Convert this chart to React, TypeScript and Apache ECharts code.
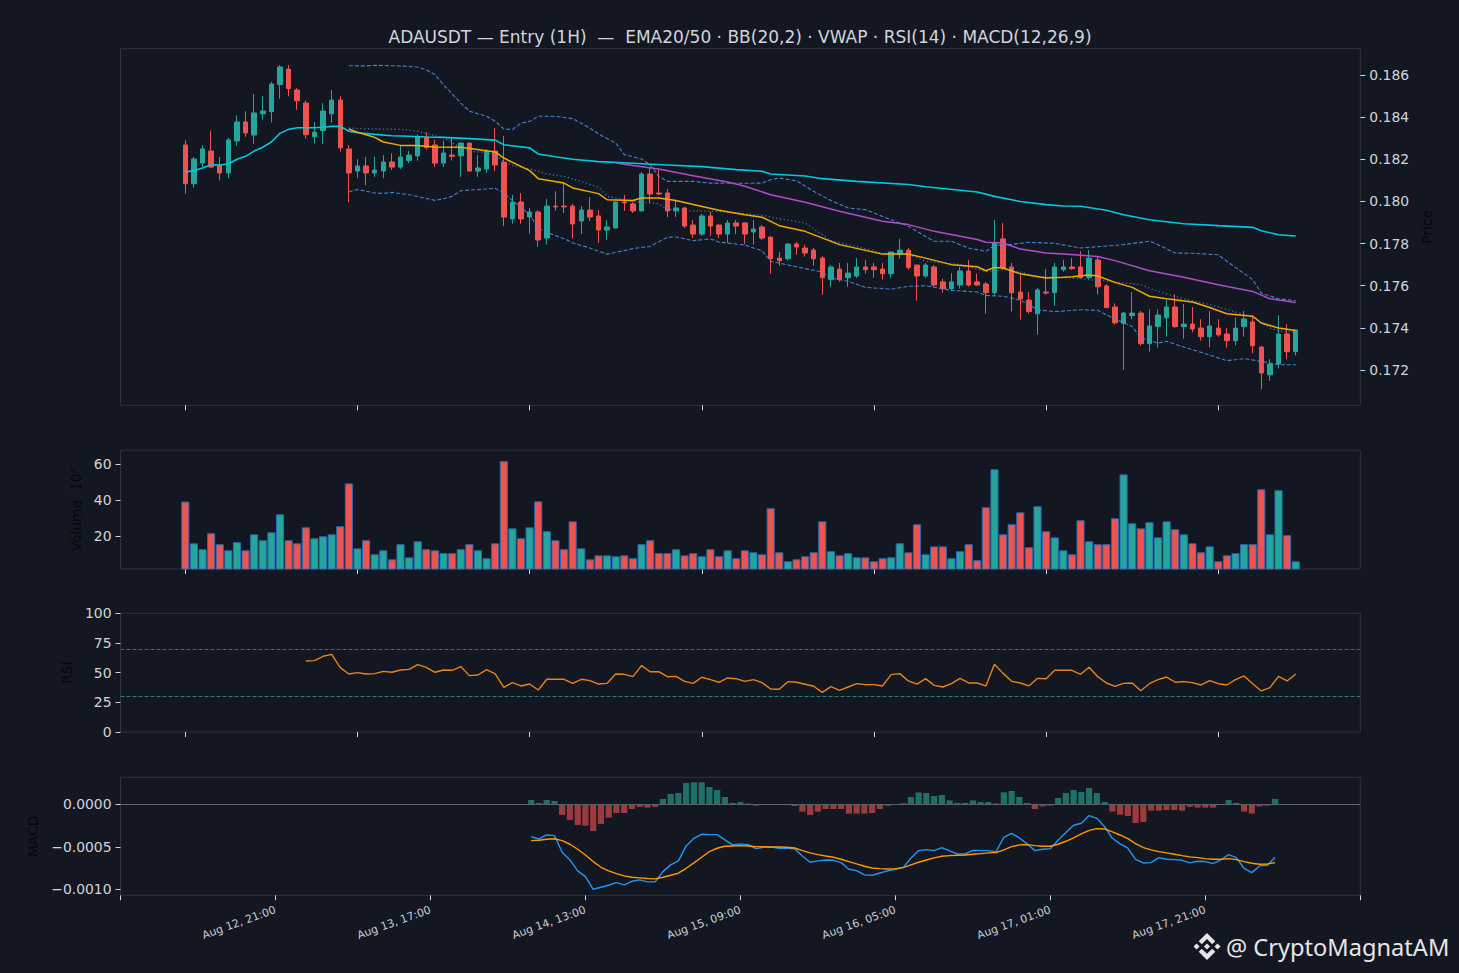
import React, { useEffect, useRef } from "react";
import * as echarts from "echarts";

const TITLE = "ADAUSDT — Entry (1H)  —  EMA20/50 · BB(20,2) · VWAP · RSI(14) · MACD(12,26,9)";
const WATERMARK = "@ CryptoMagnatAM";

const OPEN = [
  0.18268,0.18084,0.18182,0.18239,0.18171,0.18135,0.18287,0.18377,0.18315,0.18416,
  0.18426,0.18554,0.18628,0.18529,0.18467,0.18307,0.18336,0.18416,0.18481,0.18249,
  0.18144,0.18168,0.18135,0.18144,0.18187,0.18163,0.18194,0.18216,0.18306,0.18268,
  0.18182,0.18220,0.18216,0.18277,0.18144,0.18154,0.18239,0.18187,0.17917,0.17997,
  0.17926,0.17950,0.17826,0.17978,0.17978,0.17978,0.17907,0.17959,0.17931,0.17864,
  0.17874,0.17997,0.17988,0.17955,0.18130,0.18040,0.18040,0.17955,0.17969,0.17888,
  0.17845,0.17931,0.17888,0.17845,0.17898,0.17898,0.17855,0.17879,0.17831,0.17731,
  0.17728,0.17798,0.17779,0.17769,0.17731,0.17629,0.17679,0.17638,0.17646,0.17689,
  0.17689,0.17679,0.17657,0.17750,0.17769,0.17698,0.17646,0.17689,0.17618,0.17586,
  0.17603,0.17670,0.17618,0.17608,0.17567,0.17822,0.17689,0.17570,0.17532,0.17467,
  0.17570,0.17567,0.17676,0.17689,0.17689,0.17638,0.17722,0.17599,0.17499,0.17422,
  0.17458,0.17470,0.17325,0.17406,0.17448,0.17499,0.17406,0.17418,0.17399,0.17358,
  0.17399,0.17371,0.17339,0.17406,0.17428,0.17309,0.17177,0.17229,0.17371,0.17287,
];
const HIGH = [
  0.18290,0.18211,0.18266,0.18337,0.18211,0.18301,0.18409,0.18428,0.18510,0.18499,
  0.18567,0.18647,0.18647,0.18538,0.18480,0.18377,0.18467,0.18529,0.18499,0.18268,
  0.18201,0.18211,0.18211,0.18220,0.18228,0.18268,0.18239,0.18318,0.18328,0.18293,
  0.18290,0.18301,0.18279,0.18279,0.18220,0.18249,0.18348,0.18310,0.18031,0.18040,
  0.17969,0.17959,0.18012,0.18049,0.18087,0.17988,0.17978,0.18021,0.17959,0.17912,
  0.17999,0.18031,0.17997,0.18140,0.18159,0.18149,0.18059,0.18007,0.17972,0.17912,
  0.17940,0.17950,0.17890,0.17912,0.17912,0.17900,0.17912,0.17888,0.17833,0.17760,
  0.17800,0.17807,0.17795,0.17779,0.17741,0.17698,0.17708,0.17708,0.17731,0.17722,
  0.17708,0.17708,0.17762,0.17822,0.17779,0.17700,0.17708,0.17698,0.17633,0.17660,
  0.17689,0.17722,0.17657,0.17618,0.17912,0.17898,0.17708,0.17652,0.17570,0.17589,
  0.17679,0.17708,0.17722,0.17731,0.17765,0.17769,0.17738,0.17607,0.17516,0.17475,
  0.17569,0.17480,0.17488,0.17488,0.17532,0.17559,0.17513,0.17499,0.17441,0.17480,
  0.17441,0.17399,0.17448,0.17480,0.17460,0.17315,0.17251,0.17460,0.17417,0.17390,
];
const LOW = [
  0.18037,0.18065,0.18163,0.18157,0.18100,0.18110,0.18265,0.18307,0.18274,0.18388,
  0.18375,0.18488,0.18499,0.18435,0.18298,0.18274,0.18274,0.18374,0.18236,0.17996,
  0.18110,0.18076,0.18116,0.18110,0.18148,0.18154,0.18182,0.18194,0.18246,0.18163,
  0.18163,0.18194,0.18116,0.18142,0.18116,0.18135,0.18144,0.17883,0.17894,0.17894,
  0.17847,0.17785,0.17795,0.17956,0.17945,0.17826,0.17845,0.17907,0.17803,0.17817,
  0.17872,0.17955,0.17945,0.17953,0.17993,0.18031,0.17926,0.17926,0.17874,0.17826,
  0.17836,0.17836,0.17826,0.17803,0.17845,0.17798,0.17796,0.17817,0.17657,0.17695,
  0.17719,0.17747,0.17738,0.17695,0.17557,0.17595,0.17619,0.17595,0.17637,0.17657,
  0.17638,0.17629,0.17638,0.17728,0.17676,0.17529,0.17638,0.17595,0.17567,0.17576,
  0.17586,0.17595,0.17601,0.17467,0.17557,0.17676,0.17478,0.17439,0.17467,0.17368,
  0.17557,0.17505,0.17667,0.17676,0.17636,0.17633,0.17559,0.17494,0.17415,0.17200,
  0.17441,0.17315,0.17287,0.17306,0.17358,0.17400,0.17349,0.17379,0.17339,0.17308,
  0.17358,0.17306,0.17317,0.17358,0.17279,0.17108,0.17149,0.17208,0.17251,0.17270,
];
const CLOSE = [
  0.18084,0.18201,0.18249,0.18163,0.18135,0.18292,0.18377,0.18325,0.18420,0.18429,
  0.18557,0.18638,0.18535,0.18478,0.18317,0.18329,0.18429,0.18481,0.18255,0.18135,
  0.18168,0.18135,0.18149,0.18187,0.18163,0.18211,0.18220,0.18306,0.18255,0.18182,
  0.18230,0.18214,0.18277,0.18144,0.18159,0.18239,0.18173,0.17926,0.17997,0.17917,
  0.17950,0.17817,0.17978,0.17974,0.17974,0.17893,0.17959,0.17926,0.17864,0.17879,
  0.17997,0.17993,0.17955,0.18130,0.18035,0.18035,0.17955,0.17969,0.17883,0.17845,
  0.17931,0.17883,0.17845,0.17898,0.17883,0.17845,0.17869,0.17826,0.17728,0.17719,
  0.17798,0.17784,0.17755,0.17728,0.17638,0.17689,0.17629,0.17660,0.17689,0.17676,
  0.17676,0.17657,0.17760,0.17769,0.17686,0.17646,0.17698,0.17603,0.17586,0.17618,
  0.17670,0.17603,0.17603,0.17567,0.17804,0.17686,0.17567,0.17538,0.17477,0.17580,
  0.17565,0.17689,0.17689,0.17681,0.17638,0.17731,0.17595,0.17496,0.17424,0.17470,
  0.17470,0.17325,0.17409,0.17461,0.17499,0.17406,0.17418,0.17395,0.17358,0.17409,
  0.17367,0.17339,0.17399,0.17442,0.17315,0.17186,0.17228,0.17371,0.17287,0.17390,
];
// volume in millions
const VOLUME_M = [
  39.3,16.1,12.8,21.7,15.6,12.2,16.7,12.2,21.1,17.8,22.2,32.2,17.8,16.1,25.0,18.9,20.0,21.1,25.6,49.4,
  13.3,17.8,10.0,12.2,7.2,15.6,8.3,17.2,12.8,12.2,10.6,10.6,12.8,15.6,12.2,7.8,16.1,61.7,24.4,18.9,
  25.0,39.4,22.8,17.8,12.8,28.3,13.3,7.2,9.4,9.4,8.9,9.4,7.8,15.6,17.8,10.6,10.6,12.8,9.4,10.6,
  8.9,12.8,8.9,12.2,7.8,12.2,11.1,10.0,35.6,11.1,6.1,7.2,8.9,11.1,28.3,11.7,9.4,10.6,8.3,8.3,
  6.1,7.8,8.3,16.1,11.1,26.7,10.0,14.4,14.4,7.8,11.7,15.6,6.7,36.1,57.2,21.1,26.7,33.3,13.9,36.7,
  22.8,19.4,12.2,10.0,28.9,17.2,15.6,15.6,30.0,54.4,27.2,24.4,27.8,19.4,28.3,23.9,21.1,16.1,11.1,14.4,
  6.1,9.4,10.6,15.6,15.6,46.1,21.1,45.6,20.6,6.1,
];
const RSI_START = 14;
const RSI = [
  59.8,60.1,63.8,65.4,54.2,48.9,50.0,48.9,49.2,51.1,50.3,52.2,52.8,56.7,54.5,50.3,52.2,52.0,55.1,47.5,
  48.0,52.5,48.9,37.6,41.6,
  38.8,40.4,35.4,44.4,44.4,44.4,41.0,44.4,43.3,40.4,41.0,48.9,48.6,46.6,55.9,50.8,50.8,46.6,46.9,42.7,
  41.0,46.1,44.1,41.9,45.5,44.9,42.7,44.1,41.6,36.2,36.0,42.4,41.9,40.2,38.5,33.4,38.2,35.1,37.9,40.7,
  39.9,39.9,38.8,48.3,49.2,43.0,40.4,45.0,
  39.3,37.9,40.7,45.2,41.3,41.3,38.8,57.0,49.4,42.7,41.3,38.8,45.2,44.9,52.0,52.0,52.0,48.6,54.5,46.6,
  41.3,38.5,41.0,41.3,34.8,40.7,44.1,46.3,41.9,42.4,41.6,39.6,43.3,40.7,39.6,44.1,47.2,40.7,34.6,37.4,
  46.9,43.0,48.9,
];
// MACD values in units of 1e-6, starting at candle 33
const MACD_START = 33;
const MACD_E6 = [
  -380,-408,-361,-368,-564,-655,-784,-851,-1000,-976,-953,-921,-949,-906,-890,-913,-913,-792,-713,-666,-490,-400,
  -353,-357,-357,-419,-478,-466,-474,-521,-506,-502,-517,-517,-525,-608,-682,-666,-655,-659,-686,-764,
  -780,-831,-835,-808,-784,-764,-745,-635,-545,-533,-545,-510,-549,-584,-584,-541,-545,-545,-557,-388,
  -341,-396,-466,-545,-529,-521,-423,-333,-247,-223,-133,-165,-263,-400,-466,-517,-647,-690,-686,-627,
  -647,-651,-659,-690,-670,-674,-698,-655,-592,-627,-753,-804,-725,-717,-623,
];
const SIGNAL_E6 = [
  -427,-423,-412,-405,-427,-470,-529,-596,-674,-741,-784,-815,-843,-858,-866,-874,-878,-858,-835,-811,-753,-690,
  -623,-557,-517,-494,-490,-486,-490,-498,-498,-502,-502,-506,-514,-545,-572,-592,-608,-623,-647,-674,
  -702,-729,-749,-757,-761,-757,-745,-713,-682,-655,-631,-612,-604,-600,-596,-588,-580,-572,-568,-537,
  -498,-478,-474,-486,-494,-494,-470,-435,-396,-349,-306,-286,-290,-325,-361,-404,-463,-510,-537,-557,
  -572,-588,-604,-619,-627,-639,-647,-647,-639,-651,-674,-694,-706,-702,-686,
];
const HIST_E6 = [
  51,16,51,39,-125,-184,-243,-251,-314,-231,-157,-102,-102,-55,-31,-39,-31,63,122,133,251,259,
  259,204,169,86,16,27,8,-16,-8,-3,-4,-4,-20,-86,-125,-86,-55,-55,-55,-110,
  -110,-110,-102,-55,-16,-5,12,86,141,133,98,110,47,16,16,47,27,27,10,141,
  157,86,16,-55,-24,-16,74,133,169,145,192,133,27,-86,-122,-137,-220,-208,-74,-74,
  -67,-67,-74,-31,-39,-39,-39,-4,51,16,-86,-110,-24,-16,63,
];
// overlay lines: [candle index, price]
const VWAP: [number, number][] = [
  [0,0.18140],[1,0.18146],[2,0.18159],[3,0.18174],[4,0.18173],[5,0.18178],[6,0.18200],[7,0.18214],[8,0.18239],[9,0.18257],
  [10,0.18282],[11,0.18323],[12,0.18342],[13,0.18350],[14,0.18350],[15,0.18350],[16,0.18352],[17,0.18356],[18,0.18356],[19,0.18333],
  [20,0.18326],[22,0.18318],[24,0.18312],[26,0.18309],[28,0.18306],[30,0.18304],[33,0.18298],[36,0.18291],[37,0.18269],[40,0.18254],
  [41,0.18225],[43,0.18212],[45,0.18200],[48,0.18189],[52,0.18181],[56,0.18173],[60,0.18165],[64,0.18151],[67,0.18143],[68,0.18130],
  [72,0.18121],[74,0.18108],[78,0.18095],[84,0.18080],[86,0.18070],[92,0.18045],[94,0.18024],[97,0.18000],[100,0.17985],[102,0.17978],
  [104,0.17977],[107,0.17958],[109,0.17937],[112,0.17913],[116,0.17894],[120,0.17885],[124,0.17877],[125,0.17861],[127,0.17842],[129,0.17836],
];
const EMA20: [number, number][] = [
  [19,0.18344],[20,0.18328],[22,0.18304],[23,0.18282],[25,0.18266],[27,0.18265],[29,0.18258],[32,0.18257],[36,0.18235],[37,0.18206],
  [40,0.18146],[41,0.18108],[44,0.18087],[45,0.18064],[48,0.18037],[49,0.18008],[52,0.18004],[53,0.18016],[55,0.18016],[57,0.18004],
  [59,0.17985],[62,0.17958],[65,0.17937],[67,0.17925],[69,0.17885],[72,0.17858],[76,0.17795],[81,0.17750],[84,0.17750],[86,0.17731],
  [89,0.17700],[92,0.17690],[93,0.17671],[94,0.17687],[95,0.17684],[97,0.17657],[100,0.17637],[102,0.17640],[103,0.17643],[105,0.17651],
  [106,0.17646],[108,0.17616],[110,0.17592],[112,0.17550],[114,0.17538],[117,0.17523],[119,0.17497],[121,0.17467],[124,0.17455],[125,0.17423],
  [127,0.17399],[129,0.17387],
];
const EMA50: [number, number][] = [
  [50,0.18182],[52,0.18170],[55,0.18154],[59,0.18122],[63,0.18092],[65,0.18072],[68,0.18032],[72,0.17996],[76,0.17953],[81,0.17906],
  [84,0.17890],[87,0.17858],[92,0.17819],[93,0.17806],[95,0.17803],[97,0.17774],[100,0.17755],[102,0.17750],[106,0.17739],[108,0.17719],
  [112,0.17671],[116,0.17640],[120,0.17605],[124,0.17573],[126,0.17538],[129,0.17520],
];
const BB_UP: [number, number][] = [
  [19,0.18644],[21,0.18643],[22,0.18646],[25,0.18643],[27,0.18638],[28,0.18624],[29,0.18602],[30,0.18554],[32,0.18467],[33,0.18428],
  [35,0.18404],[36,0.18380],[37,0.18344],[38,0.18341],[39,0.18371],[40,0.18380],[41,0.18404],[43,0.18404],[45,0.18393],[47,0.18348],
  [48,0.18320],[50,0.18277],[51,0.18222],[53,0.18201],[54,0.18174],[55,0.18119],[56,0.18095],[59,0.18095],[61,0.18087],[65,0.18086],
  [67,0.18087],[68,0.18103],[69,0.18111],[71,0.18098],[73,0.18048],[75,0.18004],[77,0.17969],[79,0.17961],[80,0.17945],[82,0.17913],
  [84,0.17882],[86,0.17834],[87,0.17811],[89,0.17811],[91,0.17779],[93,0.17763],[94,0.17792],[96,0.17796],[98,0.17806],[101,0.17801],
  [104,0.17779],[106,0.17785],[109,0.17795],[112,0.17811],[113,0.17795],[115,0.17755],[117,0.17754],[120,0.17747],[121,0.17716],[124,0.17629],
  [125,0.17565],[127,0.17538],[129,0.17529],
];
const BB_MID: [number, number][] = [
  [19,0.18348],[22,0.18344],[25,0.18342],[27,0.18333],[28,0.18322],[29,0.18312],[30,0.18304],[31,0.18277],[33,0.18238],[35,0.18231],
  [36,0.18219],[37,0.18190],[38,0.18171],[40,0.18155],[42,0.18130],[44,0.18119],[46,0.18095],[48,0.18067],[49,0.18024],[51,0.18008],
  [52,0.18000],[55,0.17989],[56,0.17962],[58,0.17956],[62,0.17953],[65,0.17942],[67,0.17934],[69,0.17918],[72,0.17898],[75,0.17814],
  [77,0.17795],[80,0.17766],[81,0.17750],[84,0.17750],[86,0.17716],[90,0.17700],[93,0.17668],[95,0.17675],[97,0.17665],[99,0.17643],
  [101,0.17640],[104,0.17633],[108,0.17618],[111,0.17605],[113,0.17573],[116,0.17538],[119,0.17510],[121,0.17488],[124,0.17450],[126,0.17399],
  [127,0.17387],[129,0.17379],
];
const BB_LOW: [number, number][] = [
  [19,0.18045],[20,0.18057],[22,0.18040],[23,0.18038],[24,0.18043],[26,0.18032],[27,0.18023],[29,0.18005],[30,0.18013],[31,0.18024],
  [32,0.18051],[34,0.18056],[36,0.18062],[37,0.18040],[38,0.18004],[40,0.17937],[41,0.17874],[42,0.17853],[44,0.17823],[45,0.17803],
  [47,0.17779],[49,0.17750],[50,0.17758],[52,0.17776],[54,0.17787],[56,0.17830],[57,0.17831],[59,0.17814],[61,0.17822],[62,0.17807],
  [65,0.17793],[67,0.17766],[68,0.17716],[72,0.17681],[74,0.17665],[75,0.17637],[77,0.17621],[79,0.17592],[82,0.17584],[84,0.17597],
  [86,0.17600],[89,0.17578],[92,0.17570],[93,0.17554],[95,0.17550],[97,0.17532],[99,0.17486],[101,0.17477],[104,0.17486],[106,0.17483],
  [108,0.17442],[110,0.17407],[111,0.17352],[113,0.17328],[114,0.17336],[116,0.17309],[118,0.17284],[121,0.17244],[123,0.17254],[125,0.17241],
  [127,0.17225],[129,0.17225],
];

const PRICE_TICKS = [0.172, 0.174, 0.176, 0.178, 0.18, 0.182, 0.184, 0.186];
const VOLUME_TICKS = [20, 40, 60];
const MACD_TICKS = [-0.001, -0.0005, 0];
const CANDLE_TICKS = [0, 20, 40, 60, 80, 100, 120];
const DATE_LABELS = ["", "Aug 12, 21:00", "Aug 13, 17:00", "Aug 14, 13:00", "Aug 15, 09:00", "Aug 16, 05:00", "Aug 17, 01:00", "Aug 17, 21:00", ""];

const UP = "#26a69a";
const DOWN = "#ef5350";
const BG = "#131722";
const FG = "#d1d4dc";
const FRAME = "#2f3340";
const FONT = "DejaVu Sans";

const BNB_PATH =
  "M38.73 53.2L63.3 28.63l24.6 24.6 14.3-14.31L63.3 0 24.42 38.88l14.31 14.32zM0 63.31l14.31-14.31 14.31 14.31-14.31 14.3zM38.73 73.41l24.57 24.57 24.6-24.6 14.31 14.29-38.9 38.91-38.88-38.88-.02-.02 14.32-14.27zM98.28 63.31l14.3-14.31 14.32 14.31-14.31 14.3zM77.83 63.3L63.3 48.76 52.56 59.5l-1.24 1.23-2.54 2.54-.02.02.02.03 14.52 14.5 14.53-14.53.01-.01-.01-.01z";
try {
  echarts.graphic.registerShape("bnbLogo", echarts.graphic.extendPath(BNB_PATH, {}) as any);
} catch (e) {}

const GRID_L = 120.5;
const GRID_R = 1459 - 1360.3;
const X_MIN = -7.53;
const X_MAX = 136.5;

function buildOption() {
  const candles = OPEN.map((o, i) => [i, o, CLOSE[i], LOW[i], HIGH[i]]);
  const volume = VOLUME_M.map((v, i) => ({
    value: [i, v],
    itemStyle: { color: CLOSE[i] >= OPEN[i] ? UP : DOWN },
  }));
  const rsi = RSI.map((v, k) => [RSI_START + k, v]);
  const macd = MACD_E6.map((v, k) => [MACD_START + k, v * 1e-6]);
  const signal = SIGNAL_E6.map((v, k) => [MACD_START + k, v * 1e-6]);
  const hist = HIST_E6.map((v, k) => ({
    value: [MACD_START + k, v * 1e-6],
    itemStyle: { color: v >= 0 ? "#1f7069" : "#9c3b3e" },
  }));

  const grid = (top: number, height: number) => ({
    left: GRID_L, right: GRID_R, top, height,
    show: true, borderColor: FRAME, borderWidth: 1, backgroundColor: "transparent",
  });
  const tick = { show: true, length: 5, inside: false, lineStyle: { color: FG, width: 1 } };
  const noLine = { show: false, onZero: false };
  const upperX = (gi: number) => ({
    type: "value", gridIndex: gi, min: X_MIN, max: X_MAX, position: "bottom",
    axisLine: noLine,
    axisTick: { ...tick, customValues: CANDLE_TICKS },
    axisLabel: { show: false },
    splitLine: { show: false },
  });
  const yName = (name: string, gap: number) => ({
    name, nameLocation: "middle", nameRotate: 90, nameGap: gap,
    nameTextStyle: { color: "#05070a", fontSize: 13.9, fontFamily: FONT },
  });
  const lbl = { color: FG, fontSize: 13.9, fontFamily: FONT, margin: 9 };
  const line = (data: any, color: string, width: number, type: any = "solid", opacity = 1) => ({
    type: "line", xAxisIndex: 0, yAxisIndex: 0, data, showSymbol: false, symbol: "none",
    lineStyle: { color, width, type, opacity }, z: 3, silent: true,
  });

  return {
    animation: false,
    backgroundColor: BG,
    textStyle: { fontFamily: FONT },
    grid: [grid(48.7, 356.6), grid(450.3, 118.7), grid(613.3, 118.7), grid(777.3, 118)],
    xAxis: [
      upperX(0), upperX(1), upperX(2),
      {
        type: "value", gridIndex: 3, min: -20, max: 140, interval: 20, position: "bottom",
        axisLine: noLine,
        axisTick: tick,
        splitLine: { show: false },
        axisLabel: {
          color: "#c8ccd4", fontSize: 11, fontFamily: FONT, rotate: 20, margin: 14,
          formatter: (v: number) => DATE_LABELS[Math.round((v + 20) / 20)] || "",
        },
      },
    ],
    yAxis: [
      {
        type: "value", gridIndex: 0, position: "right", min: 0.170325, max: 0.187248,
        axisLine: noLine, splitLine: { show: false },
        axisTick: { ...tick, customValues: PRICE_TICKS },
        axisLabel: { ...lbl, customValues: PRICE_TICKS, formatter: (v: number) => v.toFixed(3) },
        ...yName("Price", 43),
      },
      {
        type: "value", gridIndex: 1, position: "left", min: 1.83, max: 67.78,
        axisLine: noLine, splitLine: { show: false },
        axisTick: { ...tick, customValues: VOLUME_TICKS },
        axisLabel: { ...lbl, customValues: VOLUME_TICKS, formatter: (v: number) => String(Math.round(v)) },
        ...yName("Volume  10⁶", 32),
      },
      {
        type: "value", gridIndex: 2, position: "left", min: 0, max: 100, interval: 25,
        axisLine: noLine, splitLine: { show: false },
        axisTick: tick,
        axisLabel: { ...lbl },
        ...yName("RSI", 37),
      },
      {
        type: "value", gridIndex: 3, position: "left", min: -0.001071, max: 0.000318,
        axisLine: noLine, splitLine: { show: false },
        axisTick: { ...tick, customValues: MACD_TICKS },
        axisLabel: {
          ...lbl, customValues: MACD_TICKS,
          formatter: (v: number) => (Math.abs(v) < 1e-9 ? "0.0000" : (v < 0 ? "\u2212" : "") + Math.abs(v).toFixed(4)),
        },
        ...yName("MACD", 68),
      },
    ],
    series: [
      {
        type: "candlestick", xAxisIndex: 0, yAxisIndex: 0, data: candles,
        encode: { x: 0, y: [1, 2, 3, 4] },
        barWidth: 5,
        itemStyle: { color: UP, color0: DOWN, borderColor: UP, borderColor0: DOWN, borderWidth: 1 },
        z: 2, silent: true,
      },
      line(BB_UP, "#4a8ee0", 1.1, [4, 2], 0.9),
      line(BB_LOW, "#4a8ee0", 1.1, [4, 2], 0.9),
      line(BB_MID, "#4a86d6", 1.3, [1.2, 2.6], 0.85),
      line(VWAP, "#00c8e0", 1.6),
      line(EMA50, "#b04cc8", 1.5),
      line(EMA20, "#f2a900", 1.5),
      {
        type: "bar", xAxisIndex: 1, yAxisIndex: 1, data: volume, barWidth: 8.1,
        itemStyle: { borderColor: "#2a6cb3", borderWidth: 1 }, silent: true,
      },
      {
        type: "line", xAxisIndex: 2, yAxisIndex: 2, data: rsi, showSymbol: false, symbol: "none",
        lineStyle: { color: "#e8821c", width: 1.4 }, silent: true,
        markLine: {
          silent: true, symbol: "none", label: { show: false },
          data: [
            { yAxis: 70, lineStyle: { color: "#a63c3e", type: [4, 2], width: 1 } },
            { yAxis: 30, lineStyle: { color: "#2c7c7a", type: [4, 2], width: 1 } },
          ],
        },
      },
      {
        type: "bar", xAxisIndex: 3, yAxisIndex: 3, data: hist, barWidth: 6.2, silent: true,
        markLine: {
          silent: true, symbol: "none", label: { show: false },
          data: [{ yAxis: 0, lineStyle: { color: "#5d616d", type: "solid", width: 1.2 } }],
        },
      },
      {
        type: "line", xAxisIndex: 3, yAxisIndex: 3, data: macd, showSymbol: false, symbol: "none",
        lineStyle: { color: "#2196f3", width: 1.4 }, silent: true, z: 3,
      },
      {
        type: "line", xAxisIndex: 3, yAxisIndex: 3, data: signal, showSymbol: false, symbol: "none",
        lineStyle: { color: "#ff9800", width: 1.4 }, silent: true, z: 3,
      },
    ],
    graphic: [
      {
        type: "text", x: 740, y: 37,
        style: { text: TITLE, fill: FG, font: `17px '${FONT}'`, textAlign: "center", textVerticalAlign: "middle" },
      },
      {
        type: "bnbLogo", x: 1193.5, y: 933, scaleX: 27 / 126.61, scaleY: 27 / 126.61,
        style: { fill: "#e6e6e6" },
      },
      {
        type: "text", x: 1226, y: 947,
        style: { text: WATERMARK, fill: "#e6e6e6", font: "23.6px 'Noto Sans'", textAlign: "left", textVerticalAlign: "middle" },
      },
    ],
  };
}

export default function App() {
  const ref = useRef<HTMLDivElement>(null);
  useEffect(() => {
    document.body.style.margin = "0";
    document.body.style.background = BG;
    if (!ref.current) return;
    const chart = echarts.init(ref.current, undefined, { renderer: "svg" });
    chart.setOption(buildOption() as any);
    return () => chart.dispose();
  }, []);
  return <div ref={ref} style={{ position: "absolute", left: 0, top: 0, width: 1459, height: 973 }} />;
}
